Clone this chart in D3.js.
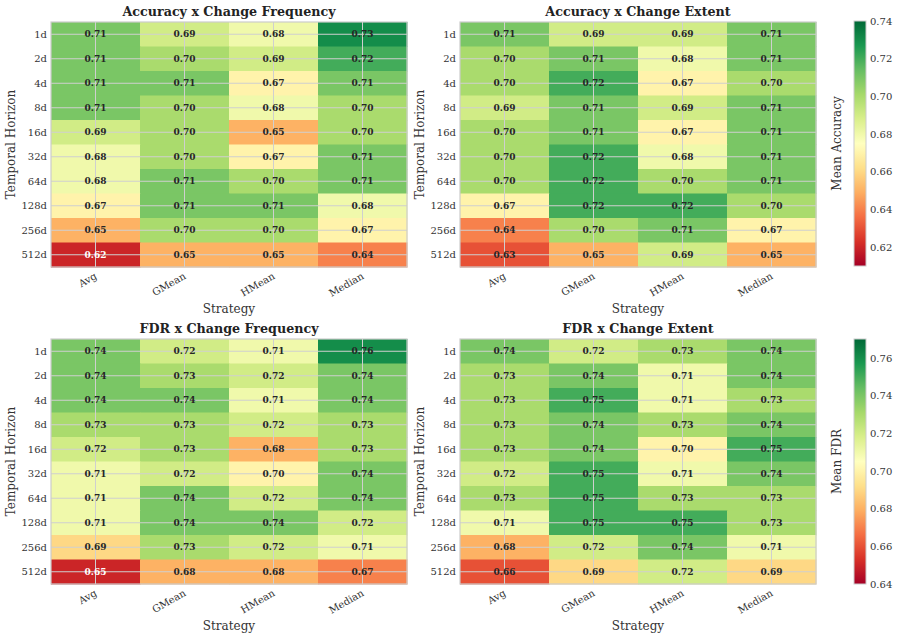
<!DOCTYPE html>
<html>
<head>
<meta charset="utf-8">
<script src="https://cdn.jsdelivr.net/npm/d3@7"></script>
<style>
  body { margin: 0; background: #fff; }
  svg { font-family: "DejaVu Serif", serif; }
</style>
</head>
<body>
<div id="chart"></div>
<script>

// categories
const strategies = ["Avg", "GMean", "HMean", "Median"];
const horizons = ["1d", "2d", "4d", "8d", "16d", "32d", "64d", "128d", "256d", "512d"];

// rows = horizons, cols = strategies
const accFreq = [
    [0.71, 0.69, 0.68, 0.73],
    [0.71, 0.70, 0.69, 0.72],
    [0.71, 0.71, 0.67, 0.71],
    [0.71, 0.70, 0.68, 0.70],
    [0.69, 0.70, 0.65, 0.70],
    [0.68, 0.70, 0.67, 0.71],
    [0.68, 0.71, 0.70, 0.71],
    [0.67, 0.71, 0.71, 0.68],
    [0.65, 0.70, 0.70, 0.67],
    [0.62, 0.65, 0.65, 0.64]
];
const accExtent = [
    [0.71, 0.69, 0.69, 0.71],
    [0.70, 0.71, 0.68, 0.71],
    [0.70, 0.72, 0.67, 0.70],
    [0.69, 0.71, 0.69, 0.71],
    [0.70, 0.71, 0.67, 0.71],
    [0.70, 0.72, 0.68, 0.71],
    [0.70, 0.72, 0.70, 0.71],
    [0.67, 0.72, 0.72, 0.70],
    [0.64, 0.70, 0.71, 0.67],
    [0.63, 0.65, 0.69, 0.65]
];
const fdrFreq = [
    [0.74, 0.72, 0.71, 0.76],
    [0.74, 0.73, 0.72, 0.74],
    [0.74, 0.74, 0.71, 0.74],
    [0.73, 0.73, 0.72, 0.73],
    [0.72, 0.73, 0.68, 0.73],
    [0.71, 0.72, 0.70, 0.74],
    [0.71, 0.74, 0.72, 0.74],
    [0.71, 0.74, 0.74, 0.72],
    [0.69, 0.73, 0.72, 0.71],
    [0.65, 0.68, 0.68, 0.67]
];
const fdrExtent = [
    [0.74, 0.72, 0.73, 0.74],
    [0.73, 0.74, 0.71, 0.74],
    [0.73, 0.75, 0.71, 0.73],
    [0.73, 0.74, 0.73, 0.74],
    [0.73, 0.74, 0.70, 0.75],
    [0.72, 0.75, 0.71, 0.74],
    [0.73, 0.75, 0.73, 0.73],
    [0.71, 0.75, 0.75, 0.73],
    [0.68, 0.72, 0.74, 0.71],
    [0.66, 0.69, 0.72, 0.69]
];

// colour ranges and colorbar ticks
const accDomain = [0.61, 0.74];
const fdrDomain = [0.64, 0.77];
const accTicks = [0.62, 0.64, 0.66, 0.68, 0.70, 0.72, 0.74];
const fdrTicks = [0.64, 0.66, 0.68, 0.70, 0.72, 0.74, 0.76];

const W = 897, H = 639;
const svg = d3.select("#chart").append("svg")
    .attr("width", W)
    .attr("height", H);

// matplotlib-like RdYlGn: linear between the 11 brewer colours
function makeColor(domain) {
    let cols = d3.schemeRdYlGn[11];
    let stops = d3.range(11).map(i => domain[0] + i * (domain[1] - domain[0]) / 10);
    return d3.scaleLinear().domain(stops).range(cols).clamp(true);
}

const panels = [
    {title: "Accuracy x Change Frequency", data: accFreq, domain: accDomain, left: 51, top: 22},
    {title: "Accuracy x Change Extent", data: accExtent, domain: accDomain, left: 460, top: 22},
    {title: "FDR x Change Frequency", data: fdrFreq, domain: fdrDomain, left: 51, top: 339},
    {title: "FDR x Change Extent", data: fdrExtent, domain: fdrDomain, left: 460, top: 339}
];
const pw = 356, ph = 245;

panels.forEach(p => {
    let color = makeColor(p.domain);
    let norm = d3.scaleLinear().domain(p.domain).range([0, 1]);
    let g = svg.append("g").attr("transform", "translate(" + p.left + "," + p.top + ")");

    let x = d3.scaleBand().domain(strategies).range([0, pw]);
    let y = d3.scaleBand().domain(horizons).range([0, ph]);

    let cells = [];
    p.data.forEach((row, i) => row.forEach((v, j) => {
        cells.push({h: horizons[i], s: strategies[j], v: v});
    }));

    g.selectAll("rect.cell")
        .data(cells)
        .enter()
        .append("rect")
        .attr("class", "cell")
        .attr("x", d => x(d.s))
        .attr("y", d => y(d.h))
        .attr("width", x.bandwidth() + 0.5)
        .attr("height", y.bandwidth() + 0.5)
        .attr("fill", d => color(d.v));

    // grid lines at cell centres
    g.selectAll("line.vgrid")
        .data(strategies)
        .enter()
        .append("line")
        .attr("x1", d => x(d) + x.bandwidth() / 2)
        .attr("x2", d => x(d) + x.bandwidth() / 2)
        .attr("y1", 0)
        .attr("y2", ph)
        .attr("stroke", "#cfcfcf")
        .attr("stroke-width", 1);
    g.selectAll("line.hgrid")
        .data(horizons)
        .enter()
        .append("line")
        .attr("y1", d => y(d) + y.bandwidth() / 2)
        .attr("y2", d => y(d) + y.bandwidth() / 2)
        .attr("x1", 0)
        .attr("x2", pw)
        .attr("stroke", "#cfcfcf")
        .attr("stroke-width", 1);

    // annotations (white only on the darkest reds)
    g.selectAll("text.annot")
        .data(cells)
        .enter()
        .append("text")
        .attr("class", "annot")
        .attr("x", d => x(d.s) + x.bandwidth() / 2)
        .attr("y", d => y(d.h) + y.bandwidth() / 2)
        .attr("dy", "0.35em")
        .attr("text-anchor", "middle")
        .attr("font-size", "9px")
        .attr("font-weight", "bold")
        .attr("fill", d => norm(d.v) < 0.1 ? "#ffffff" : "#262626")
        .text(d => d3.format(".2f")(d.v));

    // frame
    g.append("rect")
        .attr("width", pw)
        .attr("height", ph)
        .attr("fill", "none")
        .attr("stroke", "#cccccc")
        .attr("stroke-width", 1.2);

    // y tick labels
    g.selectAll("text.ytick")
        .data(horizons)
        .enter()
        .append("text")
        .attr("x", -4)
        .attr("y", d => y(d) + y.bandwidth() / 2)
        .attr("dy", "0.35em")
        .attr("text-anchor", "end")
        .attr("font-size", "10px")
        .attr("fill", "#333")
        .text(d => d);

    // x tick labels, rotated
    g.selectAll("text.xtick")
        .data(strategies)
        .enter()
        .append("text")
        .attr("text-anchor", "end")
        .attr("font-size", "10px")
        .attr("fill", "#333")
        .attr("transform", d => "translate(" + (x(d) + x.bandwidth() / 2 + 2) + "," + (ph + 11) + ") rotate(-30)")
        .text(d => d);

    g.append("text")
        .attr("x", pw / 2)
        .attr("y", -6)
        .attr("text-anchor", "middle")
        .attr("font-size", "12.7px")
        .attr("font-weight", "bold")
        .attr("fill", "#222")
        .text(p.title);

    g.append("text")
        .attr("x", pw / 2)
        .attr("y", ph + 46)
        .attr("text-anchor", "middle")
        .attr("font-size", "12px")
        .attr("fill", "#333")
        .text("Strategy");

    g.append("text")
        .attr("transform", "translate(-36," + (ph / 2) + ") rotate(-90)")
        .attr("text-anchor", "middle")
        .attr("font-size", "12px")
        .attr("fill", "#333")
        .text("Temporal Horizon");
});

// colorbars
const bars = [
    {label: "Mean Accuracy", domain: accDomain, ticks: accTicks, top: 21, id: "gradAcc"},
    {label: "Mean FDR", domain: fdrDomain, ticks: fdrTicks, top: 339, id: "gradFdr"}
];
const cbx = 854, cbw = 12, cbh = 245;

let defs = svg.append("defs");
bars.forEach(b => {
    let color = makeColor(b.domain);
    let grad = defs.append("linearGradient")
        .attr("id", b.id)
        .attr("x1", 0).attr("y1", 1)
        .attr("x2", 0).attr("y2", 0);
    d3.range(0, 1.0001, 0.02).forEach(t => {
        grad.append("stop")
            .attr("offset", t)
            .attr("stop-color", color(b.domain[0] + t * (b.domain[1] - b.domain[0])));
    });

    let yc = d3.scaleLinear().domain(b.domain).range([b.top + cbh, b.top]);
    let g = svg.append("g");
    g.append("rect")
        .attr("x", cbx)
        .attr("y", b.top)
        .attr("width", cbw)
        .attr("height", cbh)
        .attr("fill", "url(#" + b.id + ")")
        .attr("stroke", "#cccccc")
        .attr("stroke-width", 1);

    let axis = d3.axisRight(yc)
        .tickValues(b.ticks)
        .tickFormat(d3.format(".2f"))
        .tickSize(0)
        .tickPadding(4);
    let ax = g.append("g")
        .attr("transform", "translate(" + (cbx + cbw) + ",0)")
        .call(axis);
    ax.select(".domain").remove();
    ax.selectAll("text")
        .attr("font-family", "DejaVu Serif")
        .attr("font-size", "10px")
        .attr("fill", "#333");

    g.append("text")
        .attr("transform", "translate(841," + (b.top + cbh / 2) + ") rotate(-90)")
        .attr("text-anchor", "middle")
        .attr("font-size", "12px")
        .attr("fill", "#333")
        .text(b.label);
});

</script>
</body>
</html>
